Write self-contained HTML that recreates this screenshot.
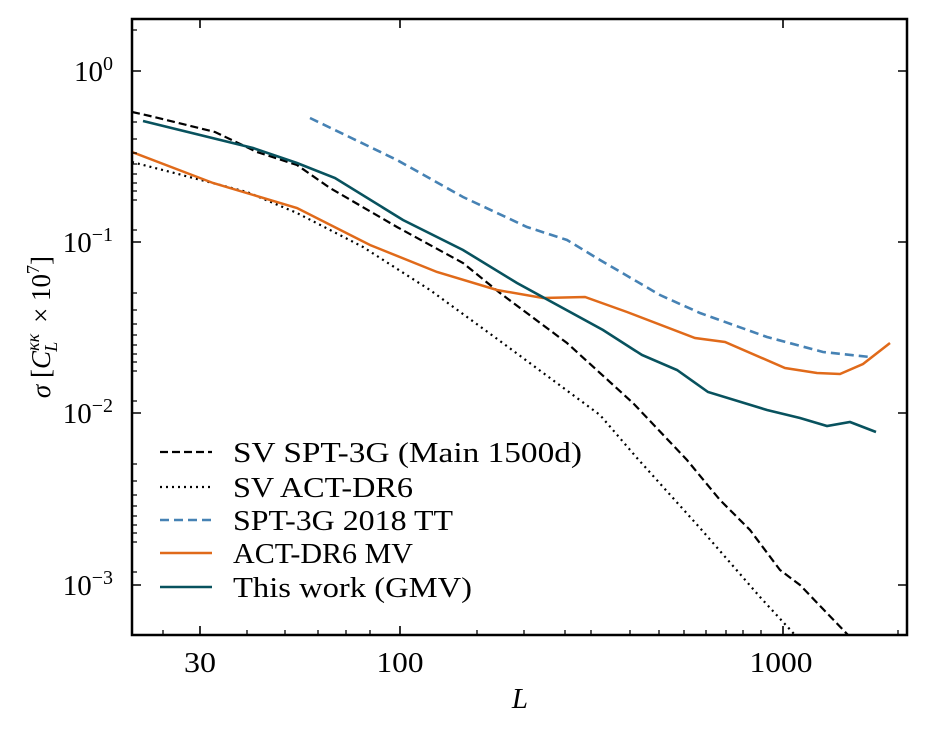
<!DOCTYPE html>
<html><head><meta charset="utf-8"><style>body{margin:0;background:#fff}svg{display:block}text{font-family:"Liberation Serif",serif;fill:#000}</style></head><body>
<svg width="926" height="736" viewBox="0 0 926 736" xmlns="http://www.w3.org/2000/svg">
<defs><clipPath id="c"><rect x="132" y="19" width="775" height="616"/></clipPath></defs>
<g clip-path="url(#c)" fill="none" stroke-width="2.2">
<polyline stroke="#000" stroke-dasharray="8,4" points="132,112 150,116 215,132 257,152 297,165 330,188 397,227 463,263 500,293 567,343 633,403 687,460 720,500 750,530 780,570 800,585 848,635"/>
<polyline stroke="#000" stroke-dasharray="2,4" points="132,162 247,192 297,213 363,247 430,290 500,341 600,415 637,458 700,528 760,597 795,635"/>
<polyline stroke="#4682b4" stroke-width="2.6" stroke-dasharray="9,5" points="310,118 397,160 463,197 527,227 567,240 600,260 660,295 700,313 767,337 823,352 870,357"/>
<polyline stroke="#e06a1a" stroke-width="2.5" points="132,152 213,183 297,208 370,245 437,272 497,290 543,298 585,297 627,312 695,338 725,342 785,368 817,373 840,374 863,364 890,343"/>
<polyline stroke="#08525e" stroke-width="2.6" points="143,121 253,148 297,163 335,178 403,220 463,250 517,283 603,330 642,355 677,370 708,392 767,410 800,418 827,426 850,422 876,432"/>
</g>
<g stroke="#000" stroke-width="1.3">
<path d="M200,635v-9M400,635v-9M783,635v-9M200,19v9M400,19v9M783,19v9" stroke-width="1.6"/>
<path d="M163,635v-5M247,635v-5M285,635v-5M318,635v-5M346,635v-5M370,635v-5M477,635v-5M524,635v-5M565,635v-5M591,635v-5M630,635v-5M659,635v-5M684,635v-5M706,635v-5M726,635v-5M743,635v-5M761,635v-5M898,635v-5"/>
<path d="M132,71h9M132,242h9M132,413h9M132,585h9M907,71h-9M907,242h-9M907,413h-9M907,585h-9" stroke-width="1.6"/>
<path d="M132,30h5M132,122h5M132,139h5M132,153h5M132,164h5M132,174h5M132,183h5M132,191h5M132,200h5M132,230h5M132,293h5M132,310h5M132,324h5M132,335h5M132,345h5M132,354h5M132,362h5M132,371h5M132,401h5M132,464h5M132,481h5M132,495h5M132,506h5M132,516h5M132,525h5M132,533h5M132,542h5M132,572h5"/>
</g>
<rect x="132" y="19" width="775" height="616" fill="none" stroke="#000" stroke-width="2.5"/>
<g font-size="29" text-anchor="middle">
<text x="200" y="672" textLength="32" lengthAdjust="spacingAndGlyphs">30</text><text x="400" y="672" textLength="47" lengthAdjust="spacingAndGlyphs">100</text><text x="781" y="672" textLength="63" lengthAdjust="spacingAndGlyphs">1000</text>
<text x="520" y="708" font-style="italic">L</text>
</g>
<g font-size="29" text-anchor="end">
<text x="113" y="81">10<tspan dy="-11" font-size="20">0</tspan></text>
<text x="113" y="252">10<tspan dy="-11" font-size="20">−1</tspan></text>
<text x="113" y="423">10<tspan dy="-11" font-size="20">−2</tspan></text>
<text x="113" y="595">10<tspan dy="-11" font-size="20">−3</tspan></text>
</g>
<text transform="translate(50,327) rotate(-90)" font-size="27" text-anchor="middle"><tspan font-style="italic">σ</tspan> [<tspan font-style="italic">C</tspan><tspan dy="-11" font-size="18" font-style="italic">κκ</tspan><tspan dx="-18" dy="18" font-size="18" font-style="italic">L</tspan><tspan dx="12" dy="-7"> × 10</tspan><tspan dy="-11" font-size="18">7</tspan><tspan dy="11">]</tspan></text>
<g fill="none" stroke-width="2.2">
<line x1="160" y1="452" x2="212" y2="452" stroke="#000" stroke-dasharray="8,4"/>
<line x1="160" y1="487" x2="212" y2="487" stroke="#000" stroke-dasharray="2,4"/>
<line x1="160" y1="520" x2="212" y2="520" stroke="#4682b4" stroke-width="2.6" stroke-dasharray="9,5"/>
<line x1="160" y1="553" x2="212" y2="553" stroke="#e06a1a" stroke-width="2.5"/>
<line x1="160" y1="587" x2="212" y2="587" stroke="#08525e" stroke-width="2.6"/>
</g>
<g font-size="28">
<text x="233" y="462" textLength="349" lengthAdjust="spacingAndGlyphs">SV SPT-3G (Main 1500d)</text>
<text x="233" y="497" textLength="180" lengthAdjust="spacingAndGlyphs">SV ACT-DR6</text>
<text x="233" y="530" textLength="220" lengthAdjust="spacingAndGlyphs">SPT-3G 2018 TT</text>
<text x="233" y="563" textLength="180" lengthAdjust="spacingAndGlyphs">ACT-DR6 MV</text>
<text x="233" y="597" textLength="239" lengthAdjust="spacingAndGlyphs">This work (GMV)</text>
</g>
</svg>
</body></html>
